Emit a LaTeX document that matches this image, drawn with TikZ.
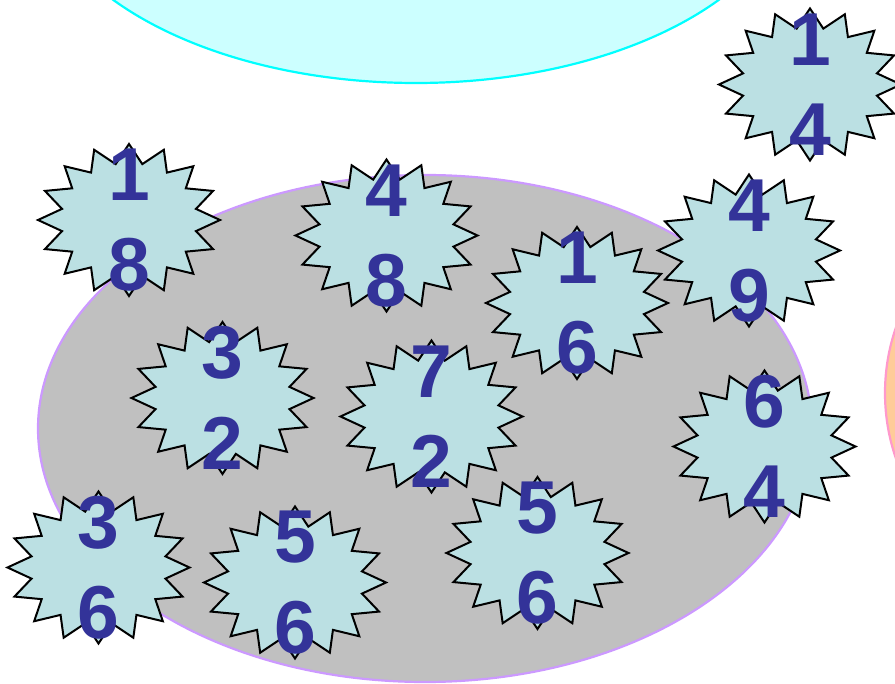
\documentclass[tikz,border=0pt]{standalone}
\usepackage{fontspec}
\setmainfont{Liberation Sans}
\definecolor{cyanfill}{HTML}{CCFFFF}
\definecolor{cyanline}{HTML}{00FFFF}
\definecolor{grayfill}{HTML}{C0C0C0}
\definecolor{grayline}{HTML}{CC99FF}
\definecolor{peachfill}{HTML}{FFCC99}
\definecolor{peachline}{HTML}{FF99CC}
\definecolor{burstfill}{HTML}{BBE0E3}
\definecolor{digitcol}{HTML}{333399}
\tikzset{
  burststyle/.style={fill=burstfill, draw=black, line width=2pt, line join=miter},
  digitstyle/.style={text=digitcol, inner sep=0pt, font=\fontsize{75}{75}\selectfont\bfseries},
  blob/.style={line width=2.2pt}
}
\newcommand\mkburst[5]{%
  \coordinate (#1) at (#2,#3);
  \begin{scope}[shift={(#1)}]
    \filldraw[burststyle] (0:91 and 76)
      \foreach \k in {1,...,16}{ -- (\k*22.5-11.25:68.3 and 57) -- (\k*22.5:91 and 76)} -- cycle;
    \node[digitstyle] (#1-top) at (0,-45) {#4};
    \node[digitstyle] (#1-bot) at (0,45) {#5};
  \end{scope}}
\begin{document}
\begin{tikzpicture}[x=1pt,y=-1pt]
  \clip (0,0) rectangle (895,684);
  \fill[white] (0,0) rectangle (895,684);
  % background shapes
  \filldraw[blob, fill=cyanfill, draw=cyanline] (416,-130) ellipse [x radius=382, y radius=213];
  \filldraw[blob, fill=grayfill, draw=grayline] (425,428.5) ellipse [x radius=387, y radius=253.5];
  \filldraw[blob, fill=peachfill, draw=peachline] (1055,393) ellipse [x radius=170, y radius=185];
  % bursts
  \mkburst{b1}{129}{220}{1}{8}
  \mkburst{b2}{386.5}{235.5}{4}{8}
  \mkburst{b4}{810}{84.5}{1}{4}
  \mkburst{b3}{577}{303}{1}{6}
  \mkburst{b5}{749}{250.5}{4}{9}
  \mkburst{b6}{222.5}{398}{3}{2}
  \mkburst{b7}{431.5}{416.5}{7}{2}
  \mkburst{b8}{764.5}{446.5}{6}{4}
  \mkburst{b9}{98.5}{567.5}{3}{6}
  \mkburst{b10}{295}{582.5}{5}{6}
  \mkburst{b11}{537.5}{553}{5}{6}
\end{tikzpicture}
\end{document}
